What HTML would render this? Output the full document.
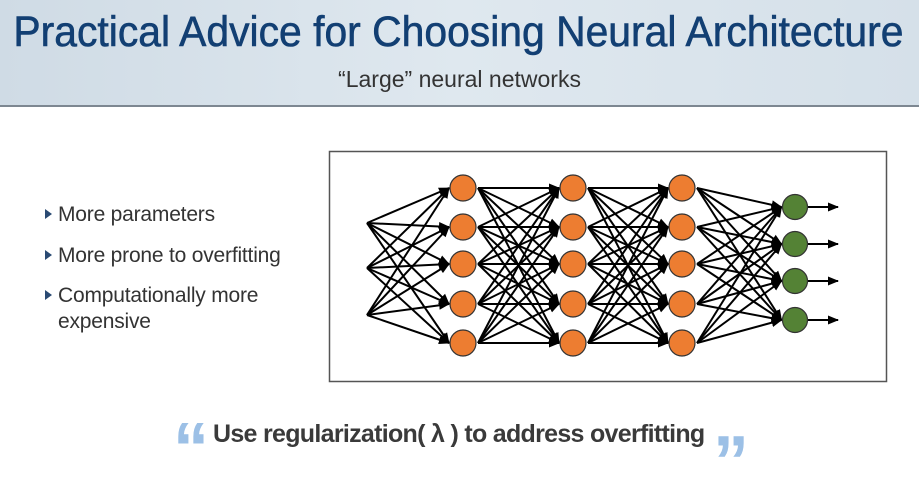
<!DOCTYPE html>
<html><head><meta charset="utf-8"><style>
body{margin:0;width:919px;height:466px;overflow:hidden;background:#fff;font-family:"Liberation Sans",sans-serif;position:relative}
.hdr{position:absolute;left:0;top:0;width:919px;height:105px;background:linear-gradient(90deg,#cfdbe5,#dfe8ef 50%,#d5e0e9);border-bottom:2px solid #7d8791}
.title{position:absolute;left:-10px;width:919px;top:8px;text-align:center;font-size:43px;color:#123f73;white-space:nowrap;-webkit-text-stroke:0.6px #123f73}
.title span{display:inline-block;transform:scaleX(0.95);transform-origin:center}
.sub{position:absolute;left:0;width:919px;top:66px;text-align:center;font-size:23px;color:#333}
.b{position:absolute;left:45px;font-size:21px;color:#333;letter-spacing:-0.2px}
.b i{font-style:normal;position:absolute;left:0;top:6px;width:0;height:0;border-left:7px solid #2a4a73;border-top:5px solid transparent;border-bottom:5px solid transparent}
.b span{margin-left:13px}
.q{position:absolute;top:420px;left:213px;font-size:25px;font-weight:bold;color:#3a3a3a;white-space:nowrap;letter-spacing:-0.7px}
.qm{position:absolute;font-size:72px;font-weight:bold;color:#9cc0e6;font-family:"Liberation Sans",sans-serif;line-height:1}
</style></head><body>
<div class="hdr"></div>
<div class="title"><span>Practical Advice for Choosing Neural Architecture</span></div>
<div class="sub">“Large” neural networks</div>
<div class="b" style="top:203px"><i></i><span>More parameters</span></div>
<div class="b" style="top:244px"><i></i><span>More prone to overfitting</span></div>
<div class="b" style="top:284px"><i></i><span>Computationally more</span></div>
<div class="b" style="top:310px"><span>expensive</span></div>
<div class="qm" style="left:173px;top:413px">“</div>
<div class="q">Use regularization( λ ) to address overfitting</div>
<div class="qm" style="left:713px;top:426px">”</div>
<svg id="s" width="919" height="466" style="position:absolute;left:0;top:0">
<defs><marker id="a" markerWidth="11" markerHeight="10" refX="10" refY="5" orient="auto" markerUnits="userSpaceOnUse"><path d="M0,0.5 L11,5 L0,9.5z" fill="#000"/></marker></defs>
<rect x="329.5" y="151.5" width="557" height="230" fill="#fff" stroke="#555" stroke-width="1.5"/>
</svg>
<script>
var s=document.getElementById('s'),ns='http://www.w3.org/2000/svg';
function el(t,a){var e=document.createElementNS(ns,t);for(var k in a)e.setAttribute(k,a[k]);s.appendChild(e);}
var H=[188,227,264,304,343],R=13;
var L=[{x:365,ys:[223,268,315],r:0},{x:463,ys:H,r:R},{x:573,ys:H,r:R},{x:682,ys:H,r:R},{x:795,ys:[207,244,281,320],r:12.5}];
for(var i=0;i<L.length-1;i++){var A=L[i],B=L[i+1];
A.ys.forEach(function(y1){B.ys.forEach(function(y2){var x1=A.x+A.r+2,x2=B.x-B.r-1;
el('line',{x1:x1,y1:y1,x2:x2,y2:y2,stroke:'#000','stroke-width':2,'marker-end':'url(#a)'});});});}
L[4].ys.forEach(function(y){el('line',{x1:808,y1:y,x2:838,y2:y,stroke:'#000','stroke-width':2,'marker-end':'url(#a)'});});
for(var i=1;i<5;i++)L[i].ys.forEach(function(y){el('circle',{cx:L[i].x,cy:y,r:L[i].r,fill:i==4?'#548235':'#ed7d31',stroke:'#333','stroke-width':1.2});});
</script>
</body></html>
